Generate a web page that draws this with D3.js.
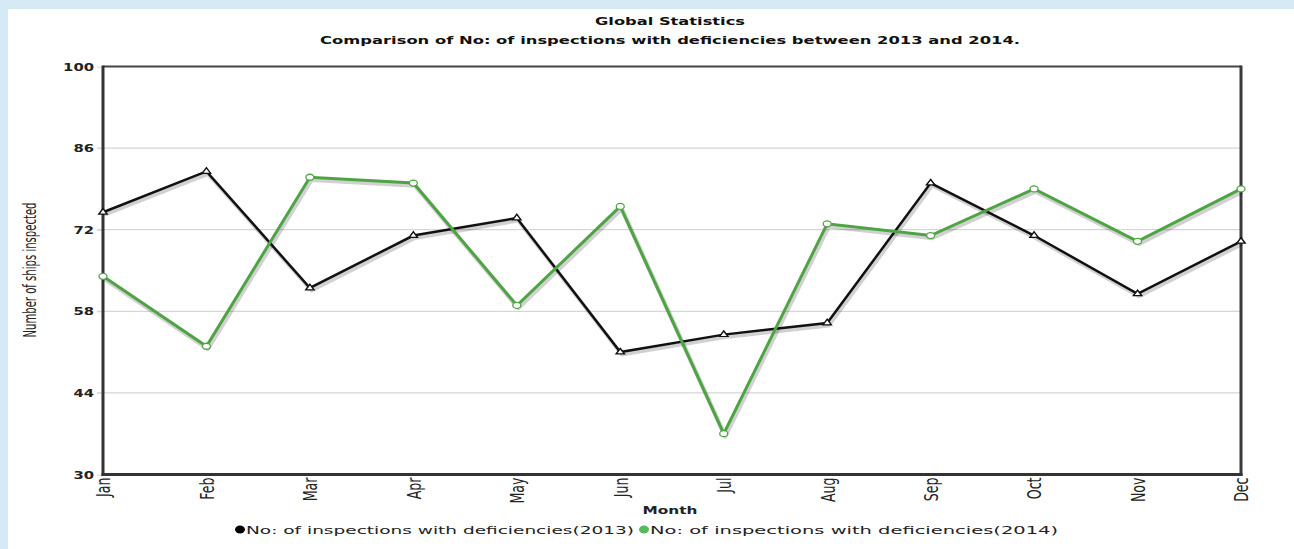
<!DOCTYPE html>
<html>
<head>
<meta charset="utf-8">
<script src="https://cdn.jsdelivr.net/npm/d3@7"></script>
<style>
  html, body { margin: 0; padding: 0; background: #d5eaf5; }
  svg { display: block; }
</style>
</head>
<body>
<svg id="chart" width="1294" height="549"></svg>
<script>
const months = ["Jan","Feb","Mar","Apr","May","Jun","Jul","Aug","Sep","Oct","Nov","Dec"];
const values2013 = [75, 82, 62, 71, 74, 51, 54, 56, 80, 71, 61, 70];
const values2014 = [64, 52, 81, 80, 59, 76, 37, 73, 71, 79, 70, 79];
const yTicks = [30, 44, 58, 72, 86, 100];
const seriesNames = ["No: of inspections with deficiencies(2013)", "No: of inspections with deficiencies(2014)"];
const titleText = "Global Statistics";
const subtitleText = "Comparison of No: of inspections with deficiencies between 2013 and 2014.";
const xTitle = "Month";
const yTitle = "Number of ships inspected";

const svg = d3.select("#chart");
const W = 1294, H = 549;
const green = "#4ea443";
const SX = 1.4; // horizontal glyph stretch seen in the reference

// panel
svg.append("rect").attr("x", 0).attr("y", 0).attr("width", W).attr("height", H).attr("fill", "#d5eaf5");
svg.append("rect").attr("x", 8).attr("y", 9).attr("width", W - 8).attr("height", H - 9).attr("fill", "#ffffff");

const plot = { left: 103, right: 1241, top: 66.5, bottom: 474.5 };

const x = d3.scalePoint().domain(months).range([plot.left, plot.right]);
const y = d3.scaleLinear().domain([30, 100]).range([plot.bottom, plot.top]);

// titles
svg.append("text").attr("x", 670).attr("y", 25).attr("text-anchor", "middle")
  .attr("font-family", "DejaVu Sans, Verdana, sans-serif").attr("font-size", 11).attr("font-weight", "bold")
  .attr("fill", "#111").attr("textLength", 150).attr("lengthAdjust", "spacingAndGlyphs").text(titleText);
svg.append("text").attr("x", 670).attr("y", 44).attr("text-anchor", "middle")
  .attr("font-family", "DejaVu Sans, Verdana, sans-serif").attr("font-size", 11).attr("font-weight", "bold")
  .attr("fill", "#111").attr("textLength", 700).attr("lengthAdjust", "spacingAndGlyphs").text(subtitleText);

// gridlines
svg.append("g").selectAll("line").data(yTicks.filter(t => t !== 30 && t !== 100)).join("line")
  .attr("x1", 97).attr("x2", plot.right).attr("y1", d => y(d)).attr("y2", d => y(d))
  .attr("stroke", "#d6d6d6").attr("stroke-width", 1.2);

// y axis via d3 axis (labels styled afterwards)
const yAxis = d3.axisLeft(y).tickValues(yTicks).tickSize(6).tickPadding(3).tickFormat(d3.format("d"));
const yg = svg.append("g").attr("transform", `translate(${plot.left},0)`).call(yAxis);
yg.select(".domain").remove();
yg.selectAll(".tick line").attr("stroke", "#d6d6d6");
yg.selectAll(".tick text")
  .attr("font-family", "DejaVu Sans, Verdana, sans-serif").attr("font-size", 11).attr("font-weight", "bold")
  .attr("fill", "#222")
  .attr("x", -9)
  .attr("textLength", d => String(d).length * 10.3).attr("lengthAdjust", "spacingAndGlyphs");

// x axis
const xAxis = d3.axisBottom(x).tickSize(0).tickPadding(0);
const xg = svg.append("g").attr("transform", `translate(0,${plot.bottom})`).call(xAxis);
xg.select(".domain").remove();
xg.selectAll(".tick text")
  .attr("font-family", "Liberation Sans Narrow, DejaVu Sans Condensed, Arial Narrow, sans-serif")
  .attr("font-size", 14).attr("fill", "#222")
  .attr("text-anchor", "end").attr("dy", "0.35em").attr("y", 0)
  .attr("transform", `translate(0,3) scale(${SX},1) rotate(-90)`);

// frame
const frame = svg.append("g");
frame.append("line").attr("x1", plot.left).attr("x2", plot.right).attr("y1", plot.top).attr("y2", plot.top)
  .attr("stroke", "#444").attr("stroke-width", 2);
frame.append("line").attr("x1", plot.right).attr("x2", plot.right).attr("y1", plot.top - 1).attr("y2", plot.bottom + 1.5)
  .attr("stroke", "#3a3a3a").attr("stroke-width", 3);
frame.append("line").attr("x1", plot.left).attr("x2", plot.left).attr("y1", plot.top - 1).attr("y2", plot.bottom + 1.5)
  .attr("stroke", "#333").attr("stroke-width", 3);
frame.append("line").attr("x1", plot.left - 1.5).attr("x2", plot.right + 1.5).attr("y1", plot.bottom).attr("y2", plot.bottom)
  .attr("stroke", "#333").attr("stroke-width", 3);

// axis titles
svg.append("text")
  .attr("transform", `translate(30,270) scale(${SX},1) rotate(-90)`)
  .attr("text-anchor", "middle").attr("dy", "0.35em")
  .attr("font-family", "Liberation Sans Narrow, DejaVu Sans Condensed, Arial Narrow, sans-serif")
  .attr("font-size", 12).attr("fill", "#222")
  .attr("textLength", 135).attr("lengthAdjust", "spacingAndGlyphs").text(yTitle);
svg.append("text").attr("x", 670).attr("y", 514).attr("text-anchor", "middle")
  .attr("font-family", "DejaVu Sans, Verdana, sans-serif").attr("font-size", 11).attr("font-weight", "bold")
  .attr("fill", "#222").attr("textLength", 55).attr("lengthAdjust", "spacingAndGlyphs").text(xTitle);

// lines
const line = d3.line().x((d, i) => x(months[i])).y(d => y(d));
const series = [
  { values: values2013, color: "#111", width: 2.5, marker: "tri" },
  { values: values2014, color: green, width: 3, marker: "circ" }
];

series.forEach(s => {
  svg.append("path").attr("d", line(s.values)).attr("fill", "none")
    .attr("stroke", "#000").attr("stroke-opacity", 0.18).attr("stroke-width", s.width + 1.5)
    .attr("stroke-linejoin", "round").attr("transform", "translate(1.5,2.5)");
});
series.forEach(s => {
  svg.append("path").attr("d", line(s.values)).attr("fill", "none")
    .attr("stroke", s.color).attr("stroke-width", s.width).attr("stroke-linejoin", "miter");
  const g = svg.append("g");
  if (s.marker === "tri") {
    g.selectAll("path").data(s.values).join("path")
      .attr("transform", (d, i) => `translate(${x(months[i])},${y(d)}) scale(1.3,1)`)
      .attr("d", d3.symbol().type(d3.symbolTriangle).size(18)())
      .attr("fill", "#fff").attr("stroke", s.color).attr("stroke-width", 1.2);
  } else {
    g.selectAll("ellipse").data(s.values).join("ellipse")
      .attr("cx", (d, i) => x(months[i])).attr("cy", d => y(d))
      .attr("rx", 4).attr("ry", 3)
      .attr("fill", "#fff").attr("stroke", s.color).attr("stroke-width", 1.3);
  }
});

// legend
const legendItems = [
  { name: seriesNames[0], color: "#000", cx: 240, tx: 246, len: 388 },
  { name: seriesNames[1], color: "#5cb85c", cx: 644, tx: 650, len: 408 }
];
const lg = svg.append("g");
legendItems.forEach(it => {
  lg.append("ellipse").attr("cx", it.cx).attr("cy", 529.5).attr("rx", 5).attr("ry", 4).attr("fill", it.color);
  lg.append("text").attr("x", it.tx).attr("y", 534)
    .attr("font-family", "DejaVu Sans, Verdana, sans-serif").attr("font-size", 11).attr("fill", "#222")
    .attr("textLength", it.len).attr("lengthAdjust", "spacingAndGlyphs").text(it.name);
});
</script>
</body>
</html>
